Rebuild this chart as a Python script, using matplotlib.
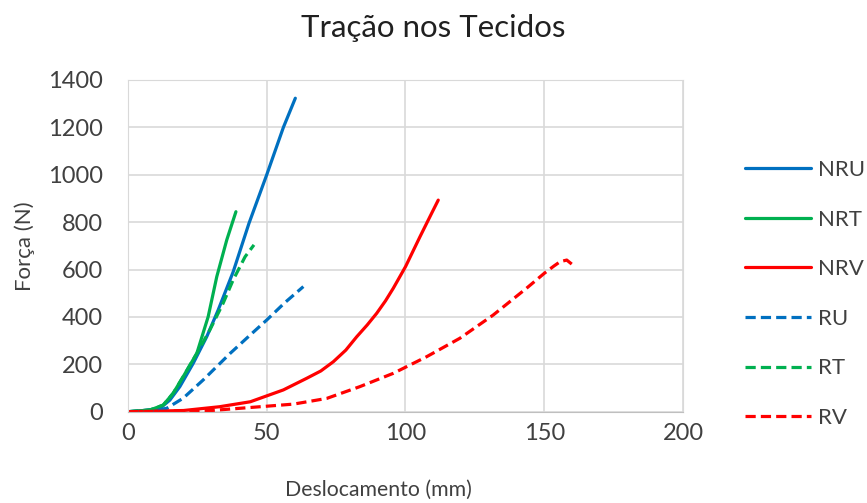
import matplotlib
matplotlib.use('Agg')
import matplotlib.pyplot as plt

plt.rcParams['font.family'] = ['Lato', 'DejaVu Sans']

# Deslocamento (mm) / Força (N) for each sample
nru_x = [0, 5.5, 11.5, 15.1, 18.7, 23.5, 28.4, 32.5, 37.9, 43.6, 50.0, 56.0, 60.3]
nru_y = [0, 5, 14, 49, 106, 204, 317, 429, 590, 795, 1000, 1200, 1323]

nrt_x = [0, 7.9, 12.7, 16.3, 19.9, 24.8, 28.9, 32.0, 35.6, 38.9]
nrt_y = [0, 7, 28, 78, 148, 246, 401, 570, 725, 844]

nrv_x = [0, 20, 33, 44.1, 56.0, 64.4, 69.5, 74.0, 78.5, 82.4, 86.2, 89.6, 92.8,
         95.6, 100, 105.2, 109.4, 111.8]
nrv_y = [0, 5, 21, 42, 92, 141, 172, 211, 260, 316, 366, 415, 468,
         521, 612, 738, 837, 893]

ru_x = [0, 7.9, 13.9, 19.9, 27.1, 36.8, 43.5, 50.0, 56.5, 63.2]
ru_y = [0, 3, 14, 57, 134, 246, 318, 387, 460, 528]

rt_x = [0, 7.9, 12.7, 16.3, 19.9, 24.8, 29.5, 34.3, 37.9, 42.2, 45.4]
rt_y = [0, 7, 28, 78, 148, 246, 345, 458, 556, 654, 704]

rv_x = [0, 30, 47.6, 59.6, 71.6, 83.6, 95.6, 107.6, 119.6, 131.6, 143.6, 150,
        153.5, 155.7, 158.1, 159.9]
rv_y = [0, 5, 21, 32, 56, 106, 162, 232, 310, 408, 521, 584, 615, 633, 640, 623]

labels = ['NRU', 'NRT', 'NRV', 'RU', 'RT', 'RV']
colors = ['#0070C0', '#00B050', '#FF0000', '#0070C0', '#00B050', '#FF0000']

fig = plt.figure(figsize=(8.67, 5.03), dpi=100)
ax = fig.add_axes([0.1476, 0.1815, 0.6402, 0.6595])

dash = (0, (3.2, 1.6))
series = [(nru_x, nru_y, '-'), (nrt_x, nrt_y, '-'), (nrv_x, nrv_y, '-'),
          (ru_x, ru_y, dash), (rt_x, rt_y, dash), (rv_x, rv_y, dash)]
for (xs, ys, ls), lab, col in zip(series, labels, colors):
    ax.plot(xs, ys, linestyle=ls, color=col, linewidth=2.3, label=lab,
            solid_capstyle='round', solid_joinstyle='round', dash_capstyle='butt')

ax.set_xlim(0, 200)
ax.set_ylim(0, 1400)
ax.set_xticks(range(0, 201, 50))
ax.set_yticks(range(0, 1401, 200))
ax.grid(True, color='#d9d9d9', linewidth=1.2)
ax.set_axisbelow(True)
for side in ['top', 'right', 'left']:
    ax.spines[side].set_color('#d9d9d9')
ax.spines['bottom'].set_color('#bfbfbf')
ax.tick_params(axis='y', length=0, labelsize=17, colors='#404040', pad=18)
ax.tick_params(axis='x', length=0, labelsize=17, colors='#404040', pad=8)

# axis titles placed by hand, like the spreadsheet layout
fig.text(0.436, 0.026, 'Deslocamento (mm)', ha='center', va='center',
         fontsize=15.3, color='#404040')
fig.text(0.029, 0.511, 'Força (N)', ha='center', va='center', rotation=90,
         fontsize=16, color='#404040')
fig.text(0.5, 0.945, 'Tração nos Tecidos', ha='center', va='center',
         fontsize=22.5, color='#202020')

fig.legend(loc='center left', bbox_to_anchor=(0.836, 0.4155), frameon=False,
           fontsize=16, handlelength=3.0, labelspacing=1.33, handletextpad=0.3,
           labelcolor='#404040')

fig.savefig('out.png', dpi=100)
